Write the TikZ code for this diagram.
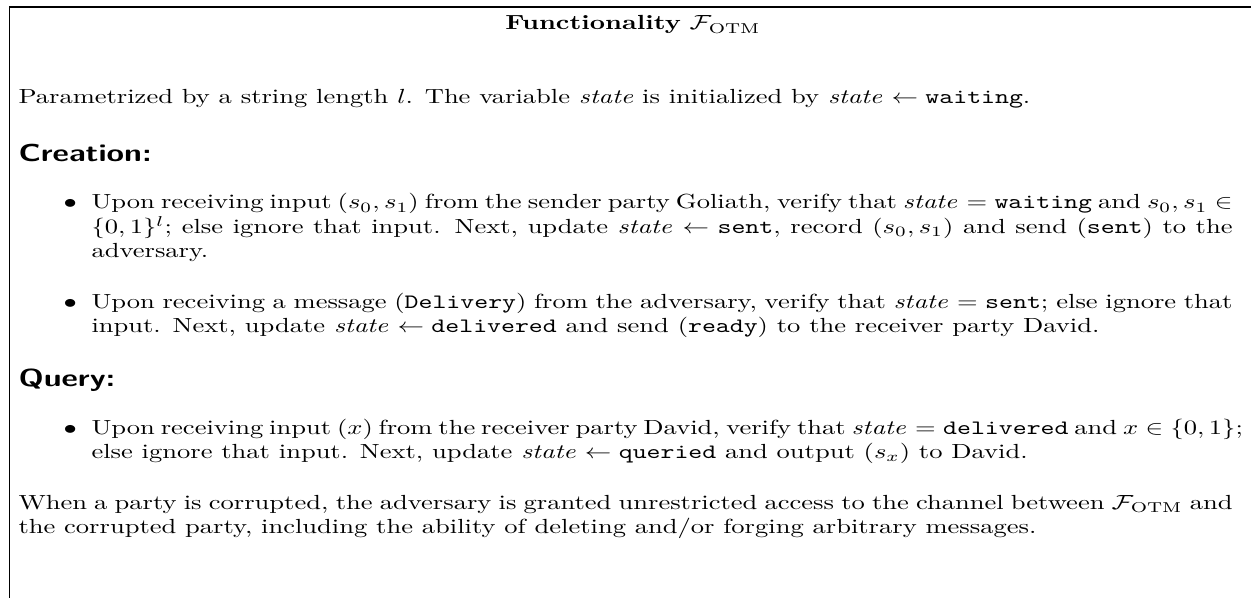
\documentclass[tikz,border=0pt]{standalone}
\usepackage{amsmath,amssymb,graphicx}
\newcommand{\stt}{\mathit{state}}
\newcommand{\FOTM}{\mathcal{F}_{\mathrm{OTM}}}
% text is set a little flatter than its natural height
\newcommand{\sq}[1]{\scalebox{1}[0.77]{#1}}
\newdimen\pxu
\pxu=0.377pt
\begin{document}
\begin{tikzpicture}[x=\pxu,y=-\pxu,
  txt/.style={inner sep=0pt,anchor=base west},
  head/.style={txt,font=\large\sffamily\bfseries},
  frameline/.style={line width=0.45pt}]
\useasboundingbox (0,0) rectangle (1251,598);
% frame of the functionality box
\coordinate (tl) at (9.5,7);
\coordinate (tr) at (1251,7);
\coordinate (bl) at (9.5,598);
\draw[frameline] (tr) -- (tl) -- (bl);
% title
\node[inner sep=0pt,anchor=base] (title) at (633,30) {\sq{\textbf{Functionality} $\FOTM$}};
% intro
\node[txt] (intro) at (18,104) {\sq{Parametrized by a string length $l$. The variable \textit{state} is initialized by $\stt \leftarrow \texttt{waiting}$.}};
% creation
\node[head] (hc) at (18,162) {\sq{Creation:}};
\node[txt] (b1) at (63,209) {\sq{$\bullet$}};
\node[txt] (c11) at (91,209) {\sq{\makebox[1141\pxu][s]{Upon receiving input $(s_0,s_1)$ from the sender party Goliath, verify that $\stt = \texttt{waiting}$ and $s_0,s_1 \in$}}};
\node[txt] (c12) at (91,233.5) {\sq{\makebox[1141\pxu][s]{$\{0,1\}^l$; else ignore that input. Next, update $\stt \leftarrow \texttt{sent}$, record $(s_0,s_1)$ and send (\texttt{sent}) to the}}};
\node[txt] (c13) at (91,258) {\sq{adversary.}};
\node[txt] (b2) at (63,308.5) {\sq{$\bullet$}};
\node[txt] (c21) at (91,308.5) {\sq{\makebox[1141\pxu][s]{Upon receiving a message (\texttt{Delivery}) from the adversary, verify that $\stt = \texttt{sent}$; else ignore that}}};
\node[txt] (c22) at (91,333) {\sq{input. Next, update $\stt \leftarrow \texttt{delivered}$ and send (\texttt{ready}) to the receiver party David.}};
% query
\node[head] (hq) at (18,387) {\sq{Query:}};
\node[txt] (b3) at (63,434) {\sq{$\bullet$}};
\node[txt] (q11) at (91,434) {\sq{\makebox[1141\pxu][s]{Upon receiving input $(x)$ from the receiver party David, verify that $\stt = \texttt{delivered}$ and $x \in \{0,1\}$;}}};
\node[txt] (q12) at (91,458) {\sq{else ignore that input. Next, update $\stt \leftarrow \texttt{queried}$ and output $(s_x)$ to David.}};
% closing remark
\node[txt] (r1) at (18,509) {\sq{\makebox[1214\pxu][s]{When a party is corrupted, the adversary is granted unrestricted access to the channel between $\FOTM$ and}}};
\node[txt] (r2) at (18,533) {\sq{the corrupted party, including the ability of deleting and/or forging arbitrary messages.}};
\end{tikzpicture}
\end{document}
